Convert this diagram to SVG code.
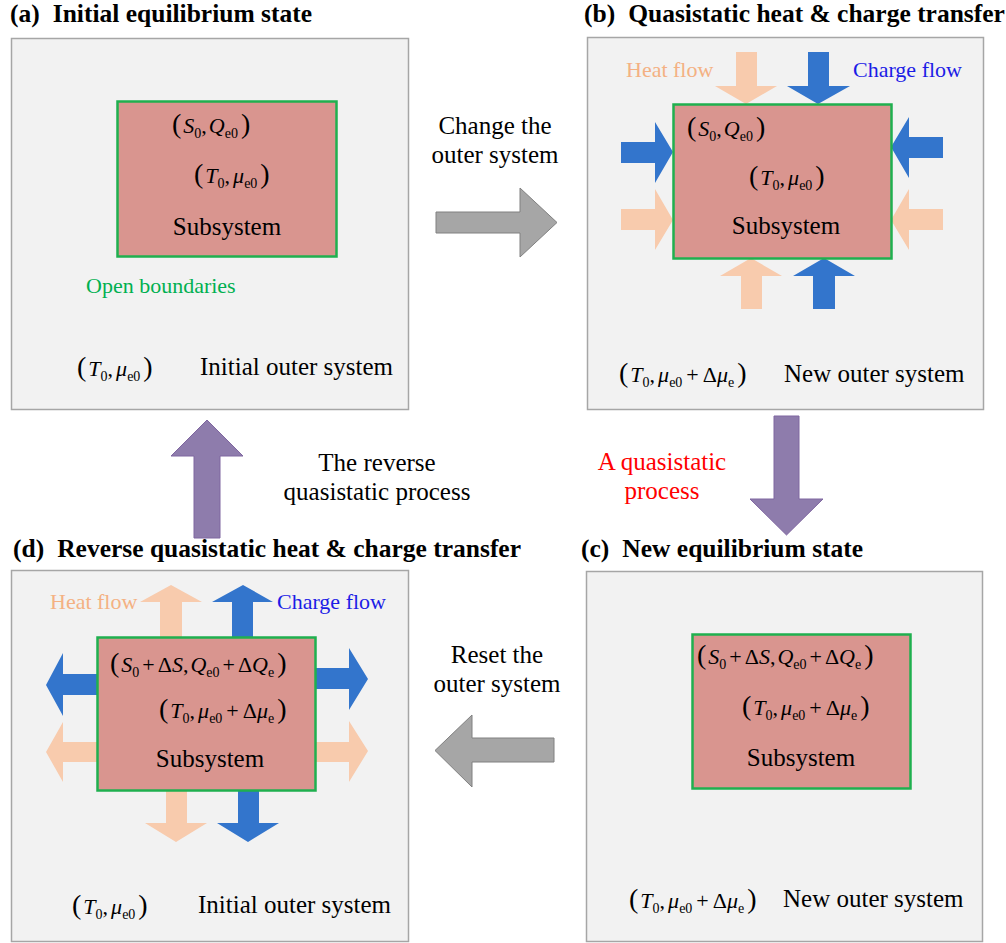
<svg xmlns="http://www.w3.org/2000/svg" width="1006" height="943" viewBox="0 0 1006 943" font-family="'Liberation Serif', 'Times New Roman', serif">
<style>
.bg{fill:#ffffff}
.panel{fill:#f2f2f2;stroke:#a6a6a6;stroke-width:1.5}
.sub{fill:#d9958f;stroke:#1fb04f;stroke-width:2.5}
.heat{fill:#f8cbad}
.charge{fill:#3375cc}
.gray{fill:#a6a6a6;stroke:#808080;stroke-width:1}
.purple{fill:#8e7cac;stroke:#7f66a0;stroke-width:1}
text{font-family:'Liberation Serif','Times New Roman',serif;fill:#000}
.t{font-size:25px}
.title{font-size:25.5px;font-weight:bold}
.lbl{font-size:22px}
.m{font-size:22px}
.it{font-style:italic}
.sb{font-size:14px}
.pr{font-size:28px}
.hc{fill:#f4b183}
.cc{fill:#1c1ce6}
.gc{fill:#00b050}
.rc{fill:#ff0000}
</style>
<rect class="bg" x="0" y="0" width="1006" height="943"/>

<!-- Panel (a) -->
<g id="panel-a">
  <text class="title" x="10" y="22">(a)<tspan dx="13">Initial equilibrium state</tspan></text>
  <rect class="panel" x="11.5" y="38.5" width="397" height="371"/>
  <text class="lbl gc" x="86" y="293">Open boundaries</text>
  <text class="m" x="77" y="376"><tspan class="pr">(</tspan><tspan class="it" dx="2">T</tspan><tspan class="sb" dy="5">0</tspan><tspan dy="-5">,</tspan><tspan class="it" dx="3">μ</tspan><tspan class="sb" dy="5">e0</tspan><tspan class="pr" dy="-5" dx="3">)</tspan></text>
  <text class="t" x="200" y="375">Initial outer system</text>
</g>
<g id="subsystem-a">
  <rect class="sub" x="117.5" y="101.5" width="219" height="155"/>
  <text class="m" x="172" y="133"><tspan class="pr">(</tspan><tspan class="it" dx="2">S</tspan><tspan class="sb" dy="5">0</tspan><tspan dy="-5">,</tspan><tspan class="it" dx="2">Q</tspan><tspan class="sb" dy="5">e0</tspan><tspan class="pr" dy="-5" dx="3">)</tspan></text>
  <text class="m" x="194" y="183"><tspan class="pr">(</tspan><tspan class="it" dx="2">T</tspan><tspan class="sb" dy="5">0</tspan><tspan dy="-5">,</tspan><tspan class="it" dx="3">μ</tspan><tspan class="sb" dy="5">e0</tspan><tspan class="pr" dy="-5" dx="3">)</tspan></text>
  <text class="t" x="227" y="235" text-anchor="middle">Subsystem</text>
</g>

<!-- Panel (b) -->
<g id="panel-b">
  <text class="title" x="584" y="22">(b)<tspan dx="13">Quasistatic heat &amp; charge transfer</tspan></text>
  <rect class="panel" x="587.5" y="37.5" width="396" height="372"/>
  <text class="lbl hc" x="626" y="77">Heat flow</text>
  <text class="lbl cc" x="853" y="77">Charge flow</text>
  <text class="m" x="619" y="382"><tspan class="pr">(</tspan><tspan class="it" dx="2">T</tspan><tspan class="sb" dy="5">0</tspan><tspan dy="-5">,</tspan><tspan class="it" dx="3">μ</tspan><tspan class="sb" dy="5">e0</tspan><tspan dy="-5" dx="4">+</tspan><tspan dx="4">Δ</tspan><tspan class="it">μ</tspan><tspan class="sb" dy="5">e</tspan><tspan class="pr" dy="-5" dx="3">)</tspan></text>
  <text class="t" x="784" y="382">New outer system</text>
</g>
<g id="flows-b">
  <polygon class="heat" points="736,52 757,52 757,86 777,86 746,104 715,86 736,86"/>
  <polygon class="charge" points="808,52 829,52 829,86 850,86 818,104 787,86 808,86"/>
  <polygon class="charge" points="621,142 655,142 655,122 673,152 655,183 655,163 621,163"/>
  <polygon class="heat" points="621,209 655,209 655,189 673,220 655,250 655,230 621,230"/>
  <polygon class="charge" points="943,137 909,137 909,117 891,147 909,178 909,158 943,158"/>
  <polygon class="heat" points="943,209 909,209 909,189 891,220 909,250 909,230 943,230"/>
  <polygon class="heat" points="741,309 741,276 720,276 751,258 782,276 762,276 762,309"/>
  <polygon class="charge" points="813,309 813,276 793,276 824,258 855,276 835,276 835,309"/>
</g>
<g id="subsystem-b">
  <rect class="sub" x="673.5" y="104.5" width="218" height="154"/>
  <text class="m" x="687" y="136"><tspan class="pr">(</tspan><tspan class="it" dx="2">S</tspan><tspan class="sb" dy="5">0</tspan><tspan dy="-5">,</tspan><tspan class="it" dx="2">Q</tspan><tspan class="sb" dy="5">e0</tspan><tspan class="pr" dy="-5" dx="3">)</tspan></text>
  <text class="m" x="749" y="185"><tspan class="pr">(</tspan><tspan class="it" dx="2">T</tspan><tspan class="sb" dy="5">0</tspan><tspan dy="-5">,</tspan><tspan class="it" dx="3">μ</tspan><tspan class="sb" dy="5">e0</tspan><tspan class="pr" dy="-5" dx="3">)</tspan></text>
  <text class="t" x="786" y="234" text-anchor="middle">Subsystem</text>
</g>

<!-- Panel (c) -->
<g id="panel-c">
  <text class="title" x="581" y="557">(c)<tspan dx="13">New equilibrium state</tspan></text>
  <rect class="panel" x="586.5" y="571.5" width="396" height="370"/>
  <text class="m" x="629" y="908"><tspan class="pr">(</tspan><tspan class="it" dx="2">T</tspan><tspan class="sb" dy="5">0</tspan><tspan dy="-5">,</tspan><tspan class="it" dx="3">μ</tspan><tspan class="sb" dy="5">e0</tspan><tspan dy="-5" dx="4">+</tspan><tspan dx="4">Δ</tspan><tspan class="it">μ</tspan><tspan class="sb" dy="5">e</tspan><tspan class="pr" dy="-5" dx="3">)</tspan></text>
  <text class="t" x="783" y="907">New outer system</text>
</g>
<g id="subsystem-c">
  <rect class="sub" x="692.5" y="634.5" width="218" height="154"/>
  <text class="m" x="697" y="664"><tspan class="pr">(</tspan><tspan class="it" dx="2">S</tspan><tspan class="sb" dy="5">0</tspan><tspan dy="-5" dx="3">+</tspan><tspan dx="3">Δ</tspan><tspan class="it">S</tspan><tspan>,</tspan><tspan class="it" dx="2">Q</tspan><tspan class="sb" dy="5">e0</tspan><tspan dy="-5" dx="3">+</tspan><tspan dx="3">Δ</tspan><tspan class="it">Q</tspan><tspan class="sb" dy="5">e</tspan><tspan class="pr" dy="-5" dx="3">)</tspan></text>
  <text class="m" x="742" y="715"><tspan class="pr">(</tspan><tspan class="it" dx="2">T</tspan><tspan class="sb" dy="5">0</tspan><tspan dy="-5">,</tspan><tspan class="it" dx="3">μ</tspan><tspan class="sb" dy="5">e0</tspan><tspan dy="-5" dx="4">+</tspan><tspan dx="4">Δ</tspan><tspan class="it">μ</tspan><tspan class="sb" dy="5">e</tspan><tspan class="pr" dy="-5" dx="3">)</tspan></text>
  <text class="t" x="801" y="766" text-anchor="middle">Subsystem</text>
</g>

<!-- Panel (d) -->
<g id="panel-d">
  <text class="title" x="13" y="557">(d)<tspan dx="13">Reverse quasistatic heat &amp; charge transfer</tspan></text>
  <rect class="panel" x="11.5" y="570.5" width="397" height="371"/>
  <text class="lbl hc" x="50" y="609">Heat flow</text>
  <text class="lbl cc" x="277" y="609">Charge flow</text>
  <text class="m" x="72" y="914"><tspan class="pr">(</tspan><tspan class="it" dx="2">T</tspan><tspan class="sb" dy="5">0</tspan><tspan dy="-5">,</tspan><tspan class="it" dx="3">μ</tspan><tspan class="sb" dy="5">e0</tspan><tspan class="pr" dy="-5" dx="3">)</tspan></text>
  <text class="t" x="198" y="913">Initial outer system</text>
</g>
<g id="flows-d">
  <polygon class="heat" points="160,637 160,602 140,602 171,585 202,602 182,602 182,637"/>
  <polygon class="charge" points="232,637 232,602 212,602 243,585 273,602 253,602 253,637"/>
  <polygon class="charge" points="97,674 63,674 63,653 46,685 63,716 63,695 97,695"/>
  <polygon class="heat" points="97,742 63,742 63,722 46,752 63,782 63,762 97,762"/>
  <polygon class="charge" points="315,668 349,668 349,648 368,679 349,710 349,689 315,689"/>
  <polygon class="heat" points="315,742 349,742 349,721 368,751 349,782 349,762 315,762"/>
  <polygon class="heat" points="166,790 166,823 145,823 176,842 207,823 187,823 187,790"/>
  <polygon class="charge" points="238,790 238,823 217,823 248,842 279,823 259,823 259,790"/>
</g>
<g id="subsystem-d">
  <rect class="sub" x="97.5" y="637.5" width="218" height="153"/>
  <text class="m" x="110" y="672"><tspan class="pr">(</tspan><tspan class="it" dx="2">S</tspan><tspan class="sb" dy="5">0</tspan><tspan dy="-5" dx="3">+</tspan><tspan dx="3">Δ</tspan><tspan class="it">S</tspan><tspan>,</tspan><tspan class="it" dx="2">Q</tspan><tspan class="sb" dy="5">e0</tspan><tspan dy="-5" dx="3">+</tspan><tspan dx="3">Δ</tspan><tspan class="it">Q</tspan><tspan class="sb" dy="5">e</tspan><tspan class="pr" dy="-5" dx="3">)</tspan></text>
  <text class="m" x="159" y="718"><tspan class="pr">(</tspan><tspan class="it" dx="2">T</tspan><tspan class="sb" dy="5">0</tspan><tspan dy="-5">,</tspan><tspan class="it" dx="3">μ</tspan><tspan class="sb" dy="5">e0</tspan><tspan dy="-5" dx="4">+</tspan><tspan dx="4">Δ</tspan><tspan class="it">μ</tspan><tspan class="sb" dy="5">e</tspan><tspan class="pr" dy="-5" dx="3">)</tspan></text>
  <text class="t" x="210" y="767" text-anchor="middle">Subsystem</text>
</g>

<!-- Connectors -->
<g id="connectors">
  <polygon class="gray" points="436,212 520,212 520,188 557,222.5 520,257 520,233 436,233"/>
  <text class="t" x="495" y="134" text-anchor="middle">Change the</text>
  <text class="t" x="495" y="163" text-anchor="middle">outer system</text>
  <polygon class="purple" points="774,416 799,416 799,499 823,499 786.5,535 750,499 774,499"/>
  <text class="t rc" x="662" y="470" text-anchor="middle">A quasistatic</text>
  <text class="t rc" x="662" y="499" text-anchor="middle">process</text>
  <polygon class="gray" points="554,738 472,738 472,715 435,750.5 472,787 472,762 554,762"/>
  <text class="t" x="497" y="663" text-anchor="middle">Reset the</text>
  <text class="t" x="497" y="692" text-anchor="middle">outer system</text>
  <polygon class="purple" points="194,538 194,456 171,456 207,420 243,456 220,456 220,538"/>
  <text class="t" x="377" y="471" text-anchor="middle">The reverse</text>
  <text class="t" x="377" y="500" text-anchor="middle">quasistatic process</text>
</g>
</svg>
